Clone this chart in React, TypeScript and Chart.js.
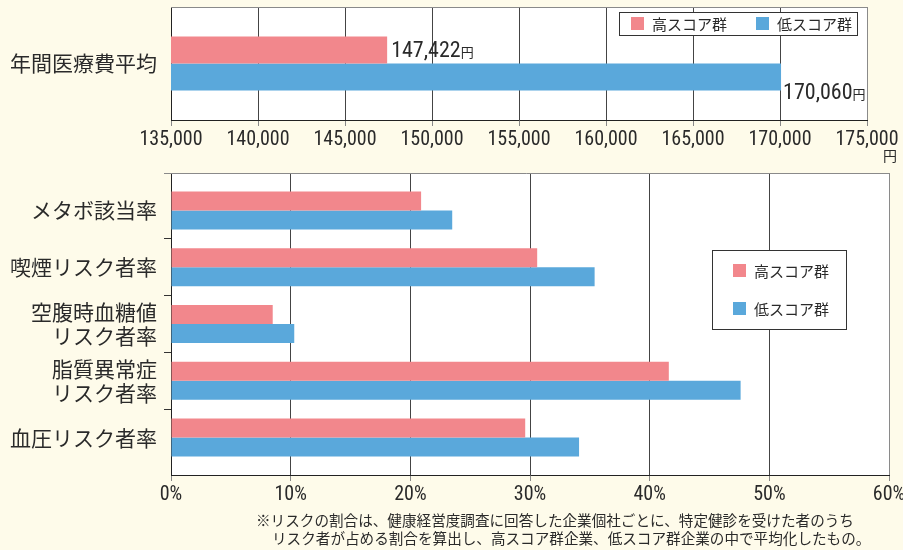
import React, { useEffect, useRef } from 'react';
import { Chart, registerables } from 'chart.js';
Chart.register(...registerables);

// ---------- data ----------
const seriesNames = ['高スコア群', '低スコア群'];
const costCategories = ['年間医療費平均'];
const costHigh = [147422];
const costLow = [170060];
const costTicks = [135000, 140000, 145000, 150000, 155000, 160000, 165000, 170000, 175000];
const costUnit = '円';

const riskCategories = [
  'メタボ該当率',
  '喫煙リスク者率',
  ['空腹時血糖値', 'リスク者率'],
  ['脂質異常症', 'リスク者率'],
  '血圧リスク者率',
];
const riskHigh = [20.9, 30.6, 8.5, 41.6, 29.6];
const riskLow = [23.5, 35.4, 10.3, 47.6, 34.1];
const pctTicks = [0, 10, 20, 30, 40, 50, 60];

const footnote = [
  '※リスクの割合は、健康経営度調査に回答した企業個社ごとに、特定健診を受けた者のうち',
  'リスク者が占める割合を算出し、高スコア群企業、低スコア群企業の中で平均化したもの。',
];

// ---------- style ----------
const PINK = '#F2878C';
const BLUE = '#5AA8DB';
const BG = '#FEFBEA';
const TEXT = '#2a2a2a';
const NARROW = '"Roboto Condensed", "Noto Sans CJK JP", sans-serif';
const JP = '"Noto Sans CJK JP", "Noto Sans CJK SC", sans-serif';

const whiteArea = {
  id: 'whiteArea',
  beforeDraw(chart: any) {
    const { ctx, chartArea: a } = chart;
    ctx.save();
    ctx.fillStyle = '#ffffff';
    ctx.fillRect(a.left, a.top, a.right - a.left, a.bottom - a.top);
    ctx.restore();
  },
};

function topLine(ext: number) {
  return {
    id: 'topLine',
    afterDraw(chart: any) {
      const { ctx, chartArea: a } = chart;
      ctx.save();
      ctx.strokeStyle = '#8a8a8a';
      ctx.lineWidth = 1;
      ctx.beginPath();
      ctx.moveTo(a.left - ext, a.top + 0.5);
      ctx.lineTo(a.right + 0.5, a.top + 0.5);
      ctx.stroke();
      ctx.restore();
    },
  };
}

function drawLegendItem(ctx: any, x: number, cy: number, color: string, label: string) {
  ctx.fillStyle = color;
  ctx.fillRect(x, cy - 6.5, 13, 13);
  ctx.fillStyle = TEXT;
  ctx.font = `15px ${JP}`;
  ctx.textAlign = 'left';
  ctx.textBaseline = 'middle';
  ctx.fillText(label, x + 21, cy + 1);
}

const legendTop = {
  id: 'legendTop',
  afterDraw(chart: any) {
    const { ctx, chartArea: a } = chart;
    const ds = chart.data.datasets;
    const bx = a.right - 248, by = a.top + 5, bw = 238, bh = 23;
    ctx.save();
    ctx.fillStyle = '#fff';
    ctx.fillRect(bx, by, bw, bh);
    ctx.strokeStyle = '#333';
    ctx.lineWidth = 1;
    ctx.strokeRect(bx + 0.5, by + 0.5, bw, bh);
    drawLegendItem(ctx, bx + 12, by + 11.5, ds[0].backgroundColor, ds[0].label);
    drawLegendItem(ctx, bx + 137, by + 11.5, ds[1].backgroundColor, ds[1].label);
    ctx.restore();
  },
};

const legendBottom = {
  id: 'legendBottom',
  afterDraw(chart: any) {
    const { ctx, chartArea: a } = chart;
    const ds = chart.data.datasets;
    const bx = a.right - 177, by = a.top + 77, bw = 134, bh = 79;
    ctx.save();
    ctx.fillStyle = '#fff';
    ctx.fillRect(bx, by, bw, bh);
    ctx.strokeStyle = '#333';
    ctx.lineWidth = 1;
    ctx.strokeRect(bx + 0.5, by + 0.5, bw, bh);
    drawLegendItem(ctx, bx + 21, by + 20.5, ds[0].backgroundColor, ds[0].label);
    drawLegendItem(ctx, bx + 21, by + 58.5, ds[1].backgroundColor, ds[1].label);
    ctx.restore();
  },
};

const valueLabels = {
  id: 'valueLabels',
  afterDatasetsDraw(chart: any) {
    const { ctx } = chart;
    ctx.save();
    chart.data.datasets.forEach((ds: any, di: number) => {
      const meta = chart.getDatasetMeta(di);
      meta.data.forEach((bar: any, i: number) => {
        const txt = Number(ds.data[i]).toLocaleString('en-US');
        const x = bar.x + (di === 0 ? 4 : 2);
        const y = bar.y + (di === 0 ? 7 : 22);
        ctx.fillStyle = TEXT;
        ctx.textAlign = 'left';
        ctx.textBaseline = 'alphabetic';
        ctx.font = `22px ${NARROW}`;
        ctx.fillText(txt, x, y);
        const w = ctx.measureText(txt).width;
        ctx.font = `13px ${JP}`;
        ctx.fillText(costUnit, x + w, y);
      });
    });
    ctx.restore();
  },
};

const unitLabel = {
  id: 'unitLabel',
  afterDraw(chart: any) {
    const { ctx, chartArea: a } = chart;
    ctx.save();
    ctx.fillStyle = TEXT;
    ctx.font = `14px ${JP}`;
    ctx.textAlign = 'right';
    ctx.textBaseline = 'alphabetic';
    ctx.fillText(costUnit, a.right + 30, 161);
    ctx.restore();
  },
};

function CostChart() {
  const ref = useRef<HTMLCanvasElement>(null);
  useEffect(() => {
    const chart = new Chart(ref.current as HTMLCanvasElement, {
      type: 'bar',
      data: {
        labels: costCategories,
        datasets: [
          { label: seriesNames[0], data: costHigh, backgroundColor: PINK },
          { label: seriesNames[1], data: costLow, backgroundColor: BLUE },
        ],
      },
      options: {
        indexAxis: 'y',
        animation: false,
        responsive: false,
        events: [],
        layout: { padding: { left: 0, right: 36, top: 7, bottom: 0 } },
        datasets: { bar: { categoryPercentage: 0.478, barPercentage: 1, borderWidth: 0 } },
        plugins: { legend: { display: false }, tooltip: { enabled: false } },
        scales: {
          x: {
            min: costTicks[0],
            max: costTicks[costTicks.length - 1],
            afterBuildTicks: (s: any) => { s.ticks = costTicks.map((v) => ({ value: v })); },
            grid: {
              color: (c: any) => (c.index === 0 ? 'transparent' : c.index === costTicks.length - 1 ? '#8a8a8a' : '#444'),
              tickColor: '#888',
              drawTicks: true,
              tickLength: 6,
            },
            border: { color: '#222' },
            ticks: {
              autoSkip: false,
              maxRotation: 0,
              padding: 2,
              color: TEXT,
              font: { family: NARROW, size: 20 },
              callback: (v: any) => Number(v).toLocaleString('en-US'),
            },
            afterFit: (s: any) => { s.height = 45; s.paddingLeft = 0; s.paddingRight = 0; },
          },
          y: {
            grid: { drawOnChartArea: false, drawTicks: false },
            border: { color: '#222' },
            ticks: { padding: 14, color: TEXT, font: { family: JP, size: 21 } },
            afterFit: (s: any) => { s.width = 171; s.paddingTop = 0; s.paddingBottom = 0; },
          },
        },
      },
      plugins: [whiteArea, topLine(0), legendTop, valueLabels, unitLabel],
    } as any);
    return () => chart.destroy();
  }, []);
  return <canvas ref={ref} width={903} height={165} style={{ position: 'absolute', left: 0, top: 0, width: 903, height: 165 }} />;
}

function RiskChart() {
  const ref = useRef<HTMLCanvasElement>(null);
  useEffect(() => {
    const pad = 0.16;
    const chart = new Chart(ref.current as HTMLCanvasElement, {
      type: 'bar',
      data: {
        labels: riskCategories,
        datasets: [
          { label: seriesNames[0], data: riskHigh, backgroundColor: PINK },
          { label: seriesNames[1], data: riskLow, backgroundColor: BLUE },
        ],
      },
      options: {
        indexAxis: 'y',
        animation: false,
        responsive: false,
        events: [],
        layout: { padding: { left: 0, right: 14, top: 8, bottom: 0 } },
        datasets: { bar: { categoryPercentage: 0.667, barPercentage: 1, borderWidth: 0 } },
        plugins: { legend: { display: false }, tooltip: { enabled: false } },
        scales: {
          x: {
            min: pctTicks[0],
            max: pctTicks[pctTicks.length - 1],
            afterBuildTicks: (s: any) => { s.ticks = pctTicks.map((v) => ({ value: v })); },
            grid: {
              color: (c: any) => (c.index === 0 ? 'transparent' : c.index === pctTicks.length - 1 ? '#8a8a8a' : '#444'),
              tickColor: '#888',
              drawTicks: true,
              tickLength: 6,
            },
            border: { color: '#222' },
            ticks: {
              autoSkip: false,
              maxRotation: 0,
              padding: 2,
              color: TEXT,
              font: { family: NARROW, size: 20 },
              callback: (v: any) => `${v}%`,
            },
            afterFit: (s: any) => { s.height = 75; s.paddingLeft = 0; s.paddingRight = 0; },
          },
          y: {
            offset: true,
            grid: {
              drawOnChartArea: false,
              drawTicks: true,
              tickLength: 7,
              color: (c: any) => (c.type === 'tick' && c.index > 0 ? '#333' : 'transparent'),
            },
            border: { color: '#222' },
            ticks: { padding: 7, color: TEXT, font: { family: JP, size: 21, lineHeight: 1.15 } },
            afterBuildTicks: (s: any) => {
              const n = s.ticks.length;
              s._startValue = -0.5 - pad;
              s._valueRange = n + 2 * pad;
            },
            afterFit: (s: any) => { s.width = 171; s.paddingTop = 0; s.paddingBottom = 0; },
          },
        },
      },
      plugins: [whiteArea, topLine(7), legendBottom],
    } as any);
    return () => chart.destroy();
  }, []);
  return <canvas ref={ref} width={903} height={385} style={{ position: 'absolute', left: 0, top: 165, width: 903, height: 385 }} />;
}

export default function App() {
  const noteStyle: React.CSSProperties = {
    position: 'absolute',
    fontFamily: JP,
    fontSize: 14.6,
    lineHeight: '18px',
    color: TEXT,
    whiteSpace: 'nowrap',
  };
  return (
    <div style={{ position: 'fixed', left: 0, top: 0, width: 903, height: 550, background: BG, overflow: 'hidden' }}>
      <CostChart />
      <RiskChart />
      <div style={{ ...noteStyle, left: 256, top: 511 }}>{footnote[0]}</div>
      <div style={{ ...noteStyle, left: 272, top: 529 }}>{footnote[1]}</div>
    </div>
  );
}
